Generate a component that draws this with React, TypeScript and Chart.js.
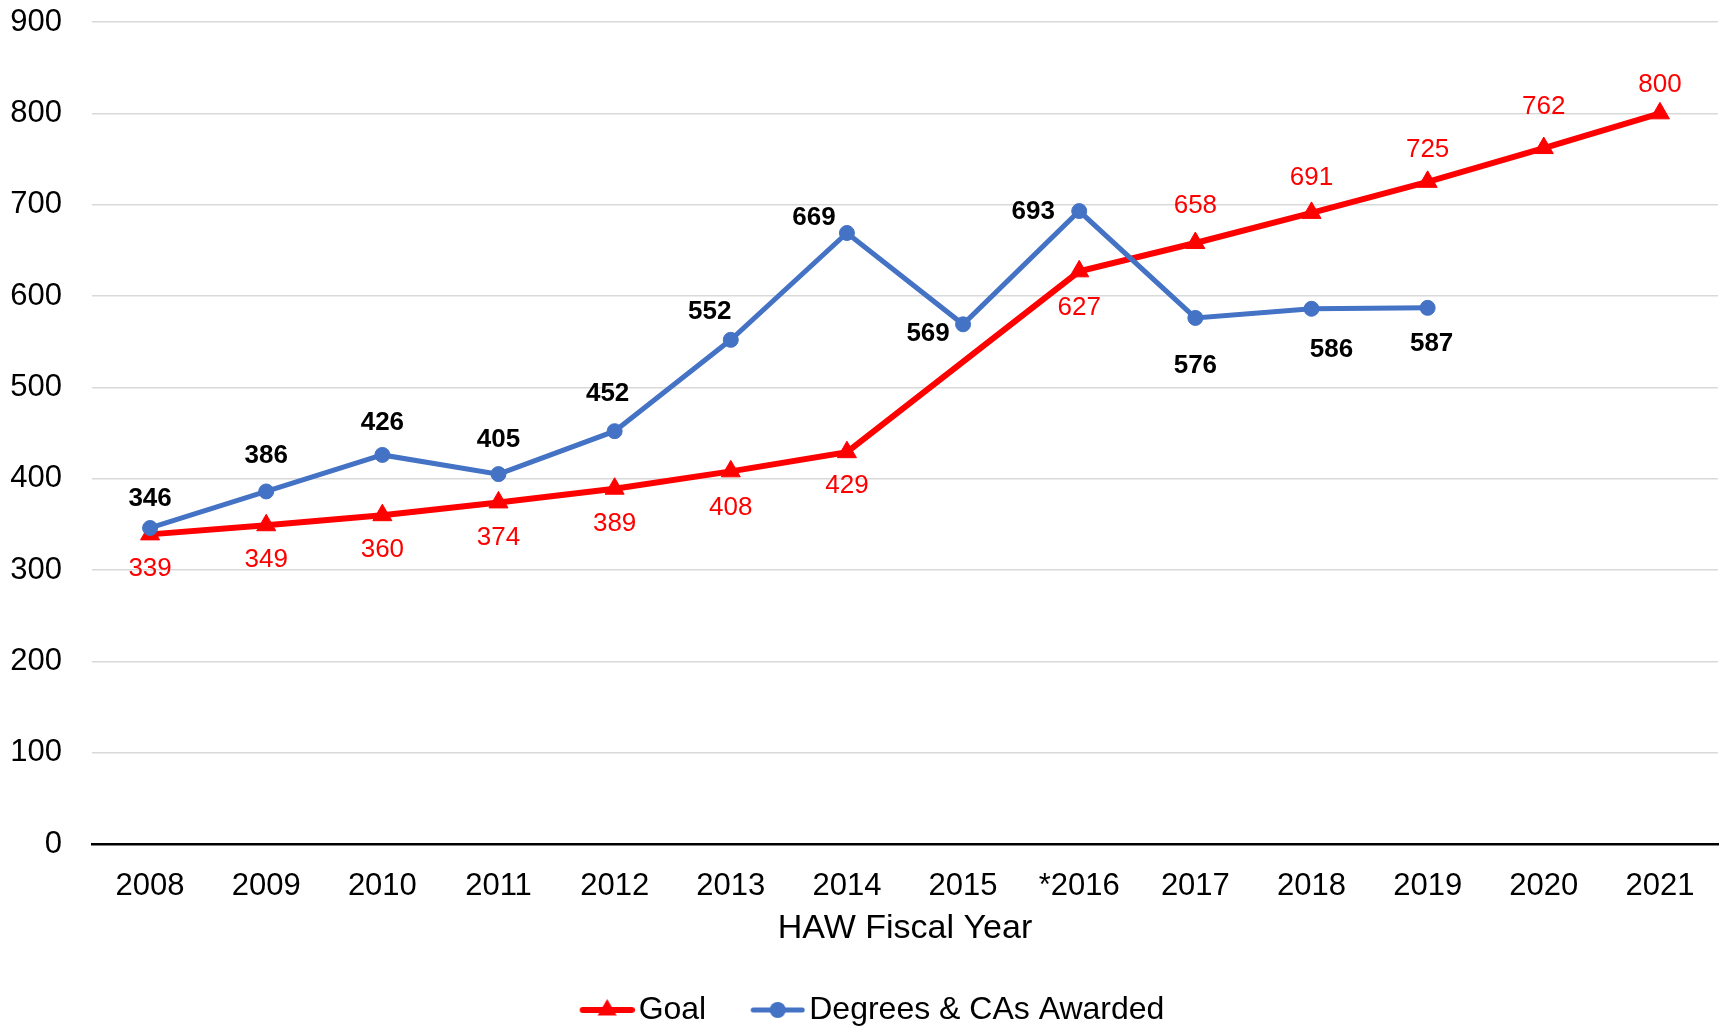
import { useEffect, useRef } from 'react';
import { Chart, registerables } from 'chart.js';

Chart.register(...registerables);

const years = ['2008', '2009', '2010', '2011', '2012', '2013', '2014', '2015', '*2016', '2017', '2018', '2019', '2020', '2021'];
const goalValues = [339, 349, 360, 374, 389, 408, 429, null, 627, 658, 691, 725, 762, 800];
const awardedValues = [346, 386, 426, 405, 452, 552, 669, 569, 693, 576, 586, 587, null, null];
const yMin = 0;
const yMax = 900;
const yStep = 100;

// label offsets (dx, dy) in pixels relative to each point
const goalLabelOffsets = [[0, 34], [0, 35], [0, 35], [0, 35], [0, 35], [0, 36], [0, 34], [0, 0], [0, 36], [0, -37], [0, -35], [0, -32], [0, -41], [0, -29]];
const awardedLabelOffsets = [[0, -29], [0, -36], [0, -32], [0, -34], [-7, -37], [-21, -28], [-33, -15], [-35, 10], [-46, 1], [0, 48], [20, 41], [4, 36]];

const FONT = '"Liberation Sans", Arial, sans-serif';
const RED = '#FF0000';
const BLUE = '#4472C4';

function makeLegendIcon(color: string, kind: 'triangle' | 'circle'): HTMLCanvasElement {
  const c = document.createElement('canvas');
  c.width = 67;
  c.height = 32;
  const g = c.getContext('2d')!;
  g.strokeStyle = color;
  g.fillStyle = color;
  g.lineWidth = kind === 'triangle' ? 6 : 5;
  g.lineCap = 'round';
  g.beginPath();
  g.moveTo(15, 16);
  g.lineTo(64, 16);
  g.stroke();
  const cx = 39.5;
  if (kind === 'triangle') {
    const r = 11;
    g.beginPath();
    g.moveTo(cx, 16 - r);
    g.lineTo(cx + r * Math.sin((2 * Math.PI) / 3), 16 - r * Math.cos((2 * Math.PI) / 3));
    g.lineTo(cx + r * Math.sin((4 * Math.PI) / 3), 16 - r * Math.cos((4 * Math.PI) / 3));
    g.closePath();
    g.fill();
  } else {
    g.beginPath();
    g.arc(cx, 16, 8, 0, Math.PI * 2);
    g.fill();
  }
  return c;
}

const valueLabelPlugin = {
  id: 'valueLabels',
  afterLayout(chart: any) {
    const lg = chart.legend;
    if (lg) {
      lg.left += 13;
      lg.right += 13;
    }
  },
  afterDatasetsDraw(chart: any) {
    const ctx = chart.ctx;
    ctx.save();
    ctx.textAlign = 'center';
    ctx.textBaseline = 'middle';
    chart.data.datasets.forEach((ds: any, di: number) => {
      const meta = chart.getDatasetMeta(di);
      const offsets = di === 0 ? goalLabelOffsets : awardedLabelOffsets;
      ctx.font = di === 0 ? `26px ${FONT}` : `bold 26px ${FONT}`;
      ctx.fillStyle = di === 0 ? RED : '#000000';
      meta.data.forEach((pt: any, i: number) => {
        const v = ds.data[i];
        if (v === null || v === undefined) return;
        const off = offsets[i] || [0, 0];
        ctx.fillText(String(v), pt.x + off[0], pt.y + off[1]);
      });
    });
    ctx.restore();
  },
};

export default function App() {
  const ref = useRef<HTMLCanvasElement>(null);

  useEffect(() => {
    if (!ref.current) return;
    const icons = [makeLegendIcon(RED, 'triangle'), makeLegendIcon(BLUE, 'circle')];
    const chart = new Chart(ref.current, {
      type: 'line',
      data: {
        labels: years,
        datasets: [
          {
            label: 'Goal',
            data: goalValues,
            borderColor: RED,
            backgroundColor: RED,
            borderWidth: 6,
            pointStyle: 'triangle',
            pointRadius: 11,
            pointBorderWidth: 1,
            pointBackgroundColor: RED,
            pointBorderColor: RED,
            spanGaps: true,
            tension: 0,
            order: 1,
          },
          {
            label: 'Degrees & CAs Awarded',
            data: awardedValues,
            borderColor: BLUE,
            backgroundColor: BLUE,
            borderWidth: 5,
            pointStyle: 'circle',
            pointRadius: 7.5,
            pointBorderWidth: 1,
            pointBackgroundColor: BLUE,
            pointBorderColor: BLUE,
            spanGaps: false,
            tension: 0,
            order: 0,
          },
        ],
      },
      options: {
        animation: false,
        responsive: true,
        maintainAspectRatio: false,
        layout: { autoPadding: false, padding: { top: 22, right: 7, bottom: 0, left: 0 } },
        plugins: {
          tooltip: { enabled: false },
          legend: {
            position: 'bottom',
            labels: {
              usePointStyle: true,
              pointStyleWidth: 43,
              padding: 44,
              color: '#000000',
              font: { family: FONT, size: 32 },
              sort: (a: any, b: any) => a.datasetIndex - b.datasetIndex,
              generateLabels: (ch: any) => {
                const items = (Chart.defaults.plugins.legend.labels as any).generateLabels(ch);
                return items.map((it: any) => ({ ...it, pointStyle: icons[it.datasetIndex], lineWidth: 0 }));
              },
            },
          },
        },
        scales: {
          x: {
            offset: true,
            grid: { display: false, offset: true },
            border: { display: true, color: '#000000', width: 2.5 },
            ticks: { color: '#000000', padding: 16, font: { family: FONT, size: 31 }, maxRotation: 0, autoSkip: false },
            title: {
              display: true,
              text: 'HAW Fiscal Year',
              color: '#000000',
              font: { family: FONT, size: 34 },
              padding: { top: 0, bottom: 0.5 },
            },
            afterFit: (scale: any) => {
              scale.height = 106;
              scale.paddingLeft = 0;
              scale.paddingRight = 0;
            },
          },
          y: {
            min: yMin,
            max: yMax,
            ticks: { stepSize: yStep, color: '#000000', padding: 30, font: { family: FONT, size: 31 } },
            grid: {
              drawTicks: false,
              lineWidth: 1.5,
              color: (c: any) => (c.tick && c.tick.value === 0 ? 'rgba(0,0,0,0)' : '#D9D9D9'),
            },
            border: { display: false },
            afterFit: (scale: any) => {
              scale.width = 92;
              scale.paddingTop = 0;
              scale.paddingBottom = 0;
            },
          },
        },
      },
      plugins: [valueLabelPlugin],
    });
    return () => chart.destroy();
  }, []);

  return (
    <div style={{ position: 'fixed', left: 0, top: 0, width: 1725, height: 1036, background: '#ffffff' }}>
      <canvas ref={ref} />
    </div>
  );
}
